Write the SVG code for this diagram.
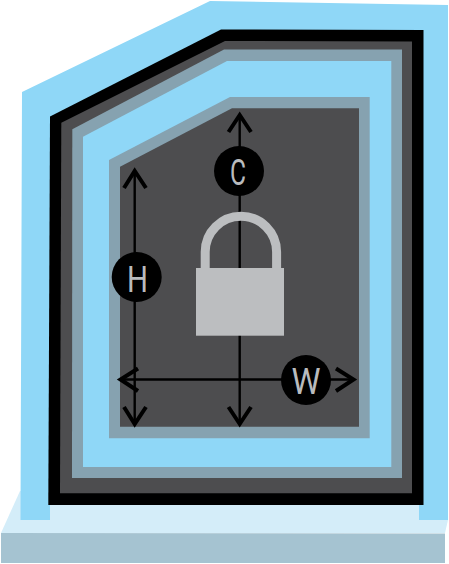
<svg xmlns="http://www.w3.org/2000/svg" width="449" height="564" viewBox="0 0 449 564">
<style>
.arrow{fill:none;stroke:#000;stroke-width:4;stroke-linejoin:miter}
.shaft{fill:none;stroke:#000;stroke-width:2.4}
.badge{fill:#000}
.label{font-family:"Roboto","Liberation Sans",sans-serif;font-weight:400;font-size:37px;fill:#bcbec0;text-anchor:middle;opacity:.99}
.lock{fill:#bcbec0}
</style>
<g id="base">
<polygon points="20,491 448,491 448,520 445,533 1,533" fill="#d4edf9"/>
<polygon points="1,533 445,533.500 445,563 1,563" fill="#a5c3d1"/>
</g>
<g id="wall">
<polygon points="22,92 210,1 448,5 448,520 419,520 419,505 50,505 50,520 20.500,520" fill="#8fd7f7"/>
<polygon points="50,116.500 221,29.500 423.500,30 423.500,505 48.300,505" fill="#000"/>
<polygon points="61.300,122.700 225,41 412,41.500 412,493.300 60,493.300" fill="#4d4d4f"/>
<polygon points="72.300,129.300 224,49.500 402,49.500 402,478 72,478" fill="#86a2b0"/>
<polygon points="83,136.700 227,61 391.300,61 391.300,467 83,467" fill="#8fd7f7"/>
<polygon points="109,160 230,97 369.700,97 369.700,438.300 109,438.300" fill="#86a2b0"/>
<polygon points="120,166.700 232,108.300 359,108.300 359,426.700 120,426.700" fill="#4d4d4f"/>
</g>
<g id="connectors">
<path class="shaft" d="M134.700,170V424"/>
<path class="arrow" d="M124,188L134.700,171L146,188"/>
<path class="arrow" d="M124,407L134.700,424L146,407"/>
<path class="shaft" d="M239.700,115V424"/>
<path class="arrow" d="M228.500,132L239.700,115L251,132"/>
<path class="arrow" d="M228.500,407L239.700,424L251,407"/>
<path class="shaft" d="M120,379.500H354"/>
<path class="arrow" d="M336,368.500L353.500,379.500L336,391"/>
<path class="arrow" d="M138,368.500L120.500,379.500L138,391"/>
</g>
<g id="lock">
<path d="M205.200,268V252A35.700,35.700 0 0 1 276.600,252V268" fill="none" stroke="#bcbec0" stroke-width="9"/>
<rect class="lock" x="196" y="268" width="88" height="67.700"/>
</g>
<g id="node-c">
<circle class="badge" cx="239" cy="171" r="25"/>
<text class="label" x="238" y="185" textLength="16" lengthAdjust="spacingAndGlyphs">C</text>
</g>
<g id="node-h">
<circle class="badge" cx="136.700" cy="277" r="25"/>
<text class="label" x="137.500" y="291.500" textLength="21" lengthAdjust="spacingAndGlyphs">H</text>
</g>
<g id="node-w">
<circle class="badge" cx="306" cy="380" r="25"/>
<text class="label" x="306" y="394" textLength="29" lengthAdjust="spacingAndGlyphs">W</text>
</g>
</svg>
